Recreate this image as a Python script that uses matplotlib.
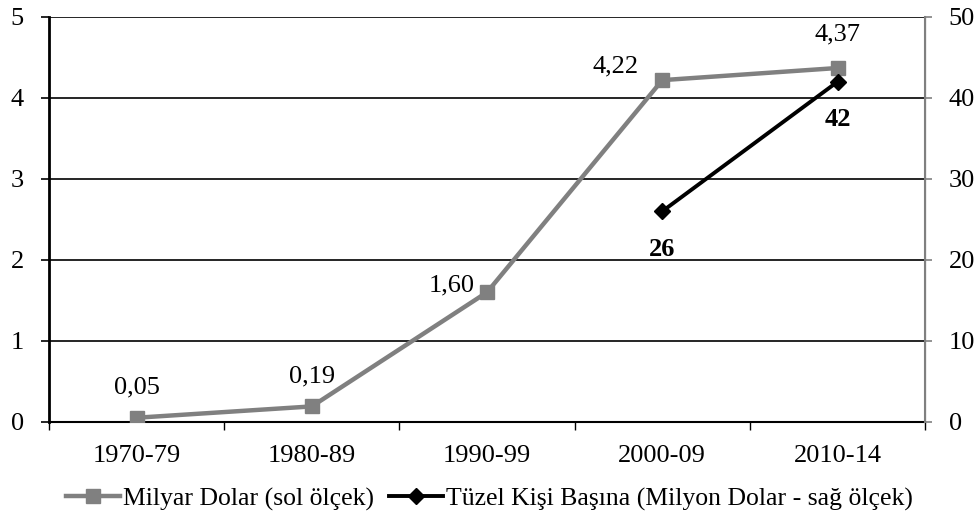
import matplotlib.pyplot as plt
import numpy as np

plt.rcParams['font.family'] = ['Liberation Serif', 'DejaVu Serif']
plt.rcParams['font.size'] = 19

# Data
periods = ["1970-79", "1980-89", "1990-99", "2000-09", "2010-14"]
billion_usd = [0.05, 0.19, 1.60, 4.22, 4.37]
billion_labels = ["0,05", "0,19", "1,60", "4,22", "4,37"]
per_entity_periods = ["2000-09", "2010-14"]
per_entity_musd = [26, 42]

x = np.arange(len(periods))
x2 = np.array([periods.index(p) for p in per_entity_periods])

fig = plt.figure(figsize=(9.79, 5.15), dpi=100)
ax = fig.add_axes([0.050, 0.181, 0.895, 0.786])
ax2 = ax.twinx()

gray = "#808080"

l1, = ax.plot(x, billion_usd, color=gray, lw=3.2, marker="s", markersize=10.5,
              label="Milyar Dolar (sol ölçek)", zorder=3)
l2, = ax2.plot(x2, per_entity_musd, color="black", lw=2.8, marker="D", markersize=8.5,
               label="Tüzel Kişi Başına (Milyon Dolar - sağ ölçek)", zorder=4)

# Left axis
ax.set_xlim(-0.5, len(periods) - 0.5)
ax.set_ylim(0, 5)
ax.set_yticks(range(0, 6))
ax.yaxis.grid(True, color="black", lw=1.2)
ax.set_axisbelow(True)
ax.set_xticks(x)
ax.set_xticklabels(periods)
ax.set_xticks(np.arange(-0.5, len(periods), 1.0), minor=True)
ax.tick_params(axis="x", which="major", length=0, pad=17)
ax.tick_params(axis="x", which="minor", length=6, width=1, direction="out")
ax.tick_params(axis="y", length=6, width=1.2, pad=12)

# Right axis
ax2.set_ylim(0, 50)
ax2.set_yticks(range(0, 51, 10))
ax2.tick_params(axis="y", length=5, width=1.2, color=gray, pad=12)

for a in (ax, ax2):
    a.spines["top"].set_visible(False)
ax.spines["left"].set_linewidth(2)
ax.spines["bottom"].set_linewidth(1.5)
ax2.spines["left"].set_visible(False)
ax2.spines["bottom"].set_visible(False)
ax2.spines["right"].set_color(gray)
ax2.spines["right"].set_linewidth(1.5)

# Value labels for the gray series
offsets = [(0, 14, "center", "bottom"), (0, 14, "center", "bottom"),
           (-9, 5, "right", "center"), (-17, 10, "right", "center"),
           (0, 16, "center", "bottom")]
for xi, v, txt, (dx, dy, ha, va) in zip(x, billion_usd, billion_labels, offsets):
    ax.annotate(txt, (xi, v), xytext=(dx, dy), textcoords="offset points",
                ha=ha, va=va)

# Value labels for the black series (below points)
for xi, v in zip(x2, per_entity_musd):
    ax2.annotate(str(v), (xi, v), xytext=(0, -19), textcoords="offset points",
                 ha="center", va="top", fontweight="bold")

fig.legend(handles=[l1, l2], loc="center", bbox_to_anchor=(0.5, 0.031),
           ncol=2, frameon=False, handlelength=2.1, fontsize=18.5,
           handletextpad=0.15, columnspacing=0.55, borderpad=0)

fig.savefig("out.png", dpi=100)
